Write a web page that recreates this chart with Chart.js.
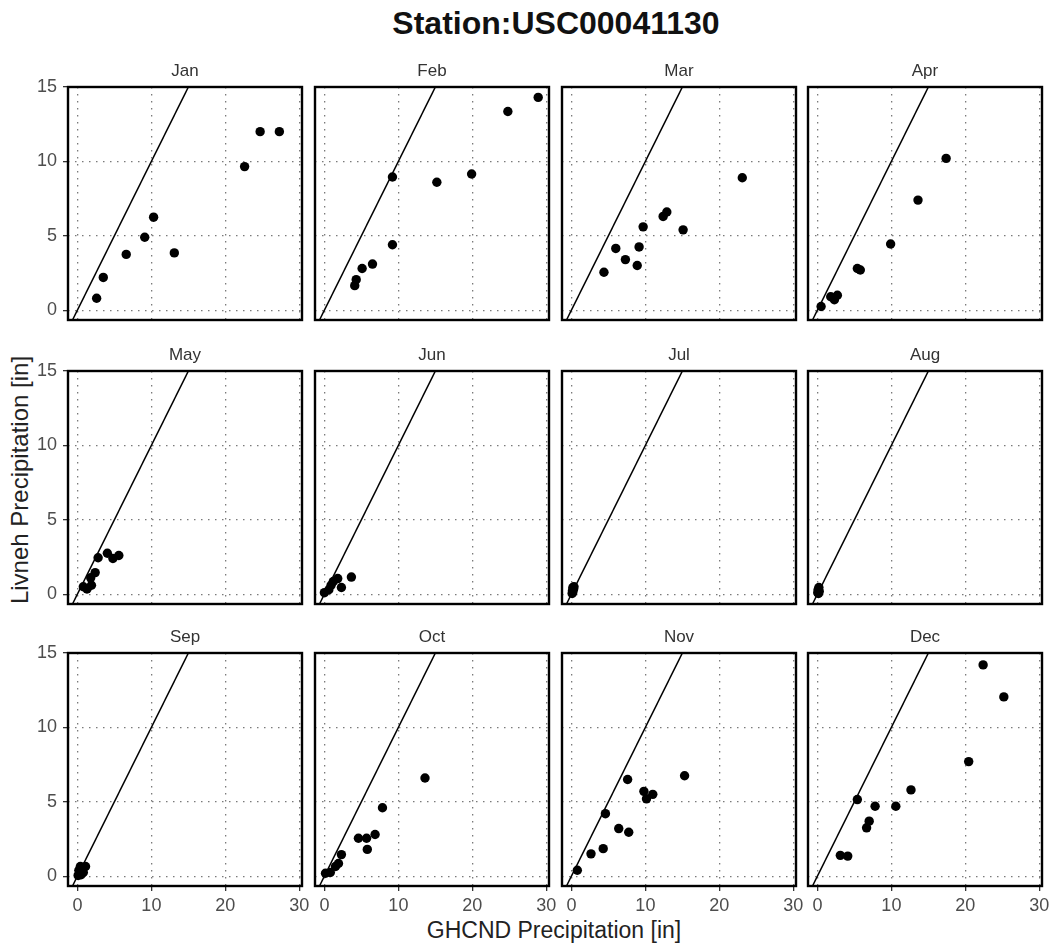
<!DOCTYPE html>
<html>
<head>
<meta charset="utf-8">
<script src="https://cdn.jsdelivr.net/npm/chart.js@4.4.1/dist/chart.umd.min.js"></script>
<style>
  body { margin: 0; background: #fff; width: 1055px; height: 947px; position: relative; overflow: hidden;
         font-family: "Liberation Sans", Arial, sans-serif; }
  .panel { position: absolute; }
  .txt { position: absolute; text-align: center; white-space: nowrap; color: #111; }
  #mainTitle { left: 256px; width: 600px; top: 3px; line-height: 40px; font-size: 32px; font-weight: bold; }
  #xTitle { left: 354px; width: 400px; top: 915px; line-height: 30px; font-size: 23px; color: #222; }
  #yTitle { left: -180px; width: 400px; top: 465px; line-height: 30px; font-size: 24px; color: #222;
            transform: rotate(-90deg); }
</style>
</head>
<body>
<div id="mainTitle" class="txt">Station:USC00041130</div>
<div id="yTitle" class="txt">Livneh Precipitation [in]</div>
<div id="xTitle" class="txt">GHCND Precipitation [in]</div>

<script>
// Monthly totals: [GHCND, Livneh] precipitation pairs, inches
const jan = [[2.6,0.8],[3.5,2.2],[6.6,3.75],[9.1,4.9],[10.3,6.25],[13.1,3.85],[22.6,9.65],[24.7,12.0],[27.3,12.0]];
const feb = [[4.1,1.65],[4.3,2.05],[5.1,2.8],[6.5,3.1],[9.2,4.4],[9.2,8.95],[15.2,8.6],[19.9,9.15],[24.8,13.35],[28.9,14.3]];
const mar = [[4.4,2.55],[6.0,4.15],[7.3,3.4],[8.9,3.0],[9.15,4.25],[9.7,5.6],[12.4,6.3],[12.9,6.6],[15.1,5.4],[23.1,8.9]];
const apr = [[0.5,0.25],[1.8,0.9],[2.3,0.7],[2.7,1.0],[5.4,2.8],[5.8,2.7],[9.9,4.45],[13.6,7.4],[17.4,10.2]];
const may = [[0.8,0.5],[1.3,0.35],[1.9,0.6],[1.8,1.1],[2.4,1.45],[2.8,2.45],[4.05,2.75],[4.8,2.4],[5.6,2.6]];
const jun = [[0.0,0.1],[0.6,0.3],[0.9,0.6],[1.2,0.85],[1.8,1.05],[2.3,0.45],[3.65,1.15]];
const jul = [[0.1,0.05],[0.2,0.15],[0.3,0.35],[0.35,0.5],[0.2,0.45],[0.15,0.25]];
const aug = [[0.05,0.1],[0.1,0.3],[0.2,0.45],[0.25,0.2],[0.15,0.05]];
const sep = [[0.1,0.05],[0.3,0.2],[0.5,0.1],[0.8,0.25],[0.4,0.65],[1.1,0.65],[0.7,0.45],[0.2,0.4]];
const oct = [[0.15,0.2],[0.8,0.25],[1.5,0.65],[1.9,0.85],[2.3,1.45],[4.6,2.55],[5.7,2.55],[6.85,2.8],[5.8,1.8],[7.85,4.6],[13.6,6.6]];
const nov = [[0.8,0.4],[2.65,1.5],[4.3,1.85],[4.6,4.2],[6.4,3.2],[7.75,2.95],[7.6,6.5],[9.8,5.7],[10.15,5.2],[11.0,5.5],[15.3,6.75]];
const dec = [[3.1,1.4],[4.1,1.35],[5.4,5.15],[6.65,3.25],[7.0,3.7],[7.8,4.7],[10.6,4.7],[12.65,5.8],[20.45,7.7],[22.4,14.2],[25.2,12.05]];

const months = ["Jan","Feb","Mar","Apr","May","Jun","Jul","Aug","Sep","Oct","Nov","Dec"];
const monthSeries = [jan, feb, mar, apr, may, jun, jul, aug, sep, oct, nov, dec];

// Tick labels and axis limits
const xTicks = [0, 10, 20, 30];
const yTicks = [0, 5, 10, 15];
const xLimits = [-1.27, 30.36];
const yLimits = [-0.66, 15.0];
// 1:1 reference line end points
const oneToOne = [-5, 40];

// Panel geometry (plot-box corners on the page)
const boxLefts = [68, 315, 562, 808];
const boxTops = [87, 371, 653];
const boxW = 234, boxH = 233;
const padL = 45, padR = 45, padT = 24, padB = 45;

const FONT = "'Liberation Sans', Arial, sans-serif";

// Black frame around each plotting box
const framePlugin = {
  id: 'frame',
  afterDraw(chart) {
    const a = chart.chartArea, ctx = chart.ctx;
    ctx.save();
    ctx.strokeStyle = '#000';
    ctx.lineWidth = 2.4;
    ctx.strokeRect(a.left, a.top, a.right - a.left, a.bottom - a.top);
    ctx.restore();
  }
};

months.forEach((m, i) => {
  const col = i % 4, row = Math.floor(i / 4);
  const showX = row === 2, showY = col === 0;

  const div = document.createElement('div');
  div.className = 'panel';
  div.style.left = (boxLefts[col] - padL) + 'px';
  div.style.top = (boxTops[row] - padT) + 'px';
  const canvas = document.createElement('canvas');
  canvas.width = padL + boxW + padR;
  canvas.height = padT + boxH + padB;
  div.appendChild(canvas);
  document.body.appendChild(div);

  const gridCommon = {
    color: '#7a7a7a',
    lineWidth: 1.3,
    tickColor: '#333',
    tickWidth: 1.3,
    tickLength: 5,
    tickBorderDash: []
  };

  new Chart(canvas, {
    type: 'scatter',
    data: {
      datasets: [
        {
          data: monthSeries[i].map(p => ({ x: p[0], y: p[1] })),
          backgroundColor: '#000',
          borderColor: '#000',
          pointRadius: 4.7,
          pointBorderWidth: 0
        },
        {
          type: 'line',
          data: oneToOne.map(v => ({ x: v, y: v })),
          borderColor: '#000',
          borderWidth: 1.5,
          pointRadius: 0,
          fill: false
        }
      ]
    },
    options: {
      responsive: false,
      animation: false,
      devicePixelRatio: 1,
      layout: { padding: { left: 0, right: padR, top: 0, bottom: 0 } },
      plugins: {
        legend: { display: false },
        tooltip: { enabled: false },
        title: {
          display: true,
          text: m,
          color: '#333',
          font: { family: FONT, size: 17, weight: 'normal', lineHeight: 1 },
          padding: { top: 0, bottom: 7 },
          fullSize: false
        }
      },
      scales: {
        x: {
          type: 'linear',
          position: 'bottom',
          min: xLimits[0],
          max: xLimits[1],
          afterBuildTicks: s => { s.ticks = xTicks.map(v => ({ value: v })); },
          afterFit: s => { s.height = padB; },
          grid: Object.assign({ drawTicks: showX }, gridCommon),
          border: { display: false, dash: [1.5, 5.5] },
          ticks: {
            display: showX,
            autoSkip: false,
            maxRotation: 0,
            padding: 4,
            color: '#4d4d4d',
            font: { family: FONT, size: 18 }
          }
        },
        y: {
          type: 'linear',
          position: 'left',
          min: yLimits[0],
          max: yLimits[1],
          afterBuildTicks: s => { s.ticks = yTicks.map(v => ({ value: v })); },
          afterFit: s => { s.width = padL; },
          grid: Object.assign({ drawTicks: showY }, gridCommon),
          border: { display: false, dash: [1.5, 5.5] },
          ticks: {
            display: showY,
            autoSkip: false,
            padding: 6,
            color: '#4d4d4d',
            font: { family: FONT, size: 18 }
          }
        }
      }
    },
    plugins: [framePlugin]
  });
});
</script>
</body>
</html>
